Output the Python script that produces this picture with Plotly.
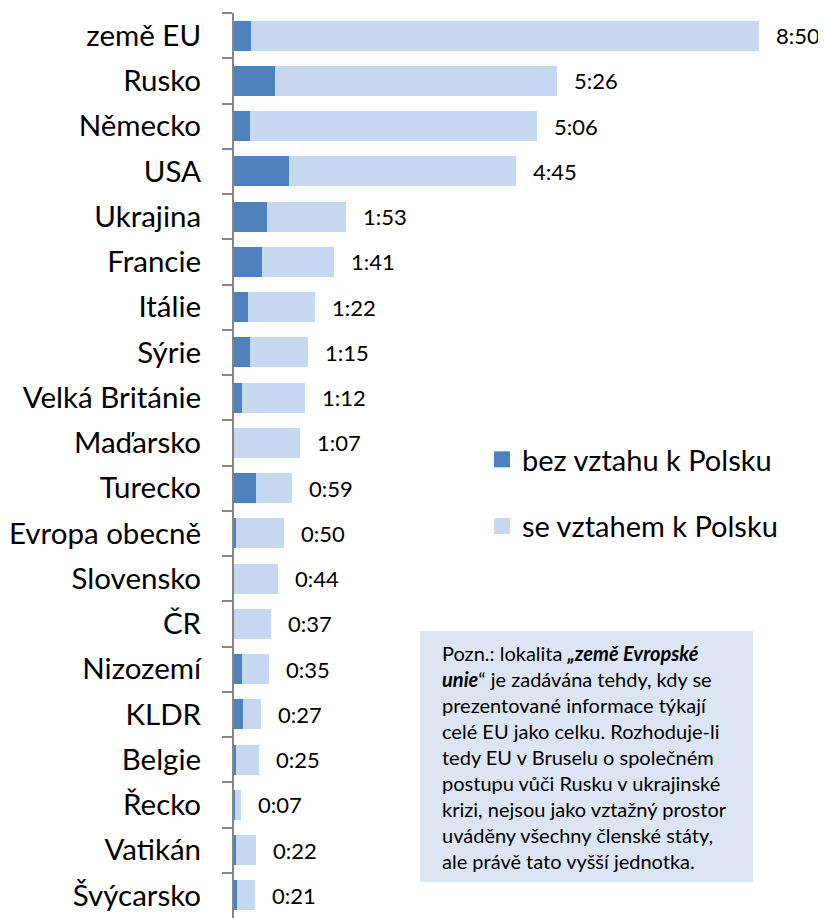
import plotly.graph_objects as go

categories = ["země EU", "Rusko", "Německo", "USA", "Ukrajina", "Francie", "Itálie",
              "Sýrie", "Velká Británie", "Maďarsko", "Turecko", "Evropa obecně",
              "Slovensko", "ČR", "Nizozemí", "KLDR", "Belgie", "Řecko", "Vatikán",
              "Švýcarsko"]
# total time in seconds
total_sec = [530, 326, 306, 285, 113, 101, 82, 75, 72, 67, 59, 50, 44, 37, 35, 27, 25, 7, 22, 21]
# part without relation to Poland (seconds)
bez_vztahu = [17, 41, 16, 56, 33, 28, 14, 16, 8, 0, 22, 2, 0, 0, 8, 9, 2, 1, 2, 3]
se_vztahem = [t - b for t, b in zip(total_sec, bez_vztahu)]
labels = [f"{t // 60}:{t % 60:02d}" for t in total_sec]

series_names = ["bez vztahu k Polsku", "se vztahem k Polsku"]
DARK = "#4f81bd"
LIGHT = "#c6d9f1"
BOX = "#dce6f2"
FONT = "Lato"

# page body has an 8px default margin; figure is sized so it ends at the window edge
OFF = 8
W, H = 826 - OFF, 918 - OFF
PL, PT = 234, 13            # plot-area origin in screen pixels
PW, PH = 826 - PL, 918 - PT


def px(sx):
    return (sx - PL) / PW


def py(sy):
    return 1 - (sy - PT) / PH


fig = go.Figure()
fig.add_trace(go.Bar(y=categories, x=bez_vztahu, orientation="h", marker=dict(color=DARK, line=dict(width=0)),
                     name=series_names[0], showlegend=False))
fig.add_trace(go.Bar(y=categories, x=se_vztahem, orientation="h", marker=dict(color=LIGHT, line=dict(width=0)),
                     name=series_names[1], showlegend=False))
# legend entries
fig.add_trace(go.Scatter(x=[None], y=[None], mode="markers", name=series_names[0], legendgroup="a",
                         marker=dict(symbol="square", size=18, color=DARK)))
fig.add_trace(go.Scatter(x=[None], y=[None], mode="markers", name=series_names[1], legendgroup="b",
                         marker=dict(symbol="square", size=18, color=LIGHT)))

for c, t, lab in zip(categories, total_sec, labels):
    fig.add_annotation(x=t, y=c, text=lab, showarrow=False, xanchor="left", xshift=15,
                       font=dict(family=FONT, size=22, color="#000000"))

note = ("Pozn.: lokalita <b><i>„země Evropské<br>unie</i></b>“ je zadávána tehdy, kdy se<br>"
        "prezentované informace týkají<br>celé EU jako celku. Rozhoduje-li<br>"
        "tedy EU v Bruselu o společném<br>postupu vůči Rusku v ukrajinské<br>"
        "krizi, nejsou jako vztažný prostor<br>uváděny všechny členské státy,<br>"
        "ale právě tato vyšší jednotka.")
fig.add_shape(type="rect", xref="paper", yref="paper", x0=px(420), x1=px(753), y0=py(882), y1=py(631),
              fillcolor=BOX, line=dict(width=0), layer="below")
fig.add_annotation(xref="paper", yref="paper", x=px(440), y=py(757),
                   xanchor="left", yanchor="middle", text=note, showarrow=False, align="left",
                   font=dict(family=FONT, size=20, color="#000000"))

fig.update_layout(
    barmode="stack", bargap=0.34,
    width=W, height=H,
    margin=dict(l=PL - OFF, r=0, t=PT - OFF, b=0, autoexpand=False),
    paper_bgcolor="white", plot_bgcolor="white",
    font=dict(family=FONT, color="#000000"),
    legend=dict(x=px(482), y=py(434),
                xanchor="left", yanchor="top", font=dict(family=FONT, size=29),
                traceorder="grouped", tracegroupgap=26, bgcolor="rgba(0,0,0,0)"),
    xaxis=dict(range=[0, PW / 0.9906], visible=False, showgrid=False, zeroline=False, fixedrange=True),
    yaxis=dict(autorange="reversed", showline=True, linecolor="#868686", linewidth=2,
               ticks="outside", ticklen=10, tickwidth=2, tickcolor="#868686", tickson="boundaries",
               tickfont=dict(family=FONT, size=29.5, color="#000000"), ticklabelstandoff=25,
               showgrid=False, zeroline=False, automargin=False),
)
fig.write_html("out.html")
